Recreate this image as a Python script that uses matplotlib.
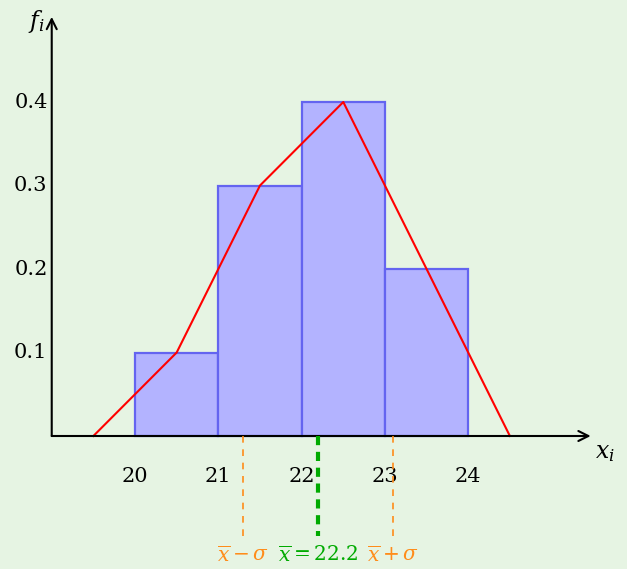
import matplotlib
matplotlib.use('Agg')
import matplotlib.pyplot as plt

# histogram data
edges = [20, 21, 22, 23, 24]
freqs = [0.1, 0.3, 0.4, 0.2]
# frequency polygon (class midpoints, closed at both ends)
poly_x = [19.5, 20.5, 21.5, 22.5, 23.5, 24.5]
poly_y = [0, 0.1, 0.3, 0.4, 0.2, 0]
mean = 22.2
sigma = 0.9
yticks = [0.1, 0.2, 0.3, 0.4]

plt.rcParams['font.family'] = 'DejaVu Serif'
plt.rcParams['mathtext.fontset'] = 'dejavuserif'

bg = '#e6f4e3'
fig = plt.figure(figsize=(6.27, 5.69), dpi=100, facecolor=bg)
ax = fig.add_axes([0, 0, 1, 1])
ax.set_facecolor(bg)
ax.set_xlim(18.379, 25.906)
ax.set_ylim(-0.1593, 0.5222)
ax.axis('off')

# bars
widths = [edges[i + 1] - edges[i] for i in range(len(freqs))]
ax.bar(edges[:-1], freqs, width=widths, align='edge',
       color='#b3b3ff', edgecolor='#6464f0', linewidth=1.6, zorder=2)

# polygon
ax.plot(poly_x, poly_y, color='red', lw=1.5, zorder=3)

# axes with arrows
ax.annotate('', xy=(25.47, 0), xytext=(19.0, 0),
            arrowprops=dict(arrowstyle='->', lw=1.5, color='black',
                            mutation_scale=18, shrinkA=0, shrinkB=0), zorder=4)
ax.annotate('', xy=(19.0, 0.502), xytext=(19.0, 0),
            arrowprops=dict(arrowstyle='->', lw=1.5, color='black',
                            mutation_scale=18, shrinkA=0, shrinkB=0), zorder=4)
ax.text(18.82, 0.497, '$f_i$', fontsize=17, ha='center', va='center')
ax.text(25.64, -0.02, '$x_i$', fontsize=17, ha='center', va='center')

# tick labels
for e in edges:
    ax.text(e, -0.049, str(e), fontsize=15, ha='center', va='center')
for t in yticks:
    ax.text(18.95, t, f'{t:.1f}', fontsize=15, ha='right', va='center')

# mean and sigma lines
ax.plot([mean, mean], [0, -0.12], color='#00aa00', lw=3, ls=(0, (2.2, 1.6)), zorder=5)
for xs in (mean - sigma, mean + sigma):
    ax.plot([xs, xs], [0, -0.12], color='#ff8c1a', lw=1.2, ls=(0, (4, 4)), zorder=5)

ax.text(mean - sigma, -0.143, r'$\overline{x}-\sigma$', fontsize=14.5,
        color='#ff8c1a', ha='center', va='center')
ax.text(mean, -0.143, r'$\overline{x}=22.2$', fontsize=14.5,
        color='#00aa00', ha='center', va='center')
ax.text(mean + sigma, -0.143, r'$\overline{x}+\sigma$', fontsize=14.5,
        color='#ff8c1a', ha='center', va='center')

fig.savefig('out.png', dpi=100, facecolor=bg)
